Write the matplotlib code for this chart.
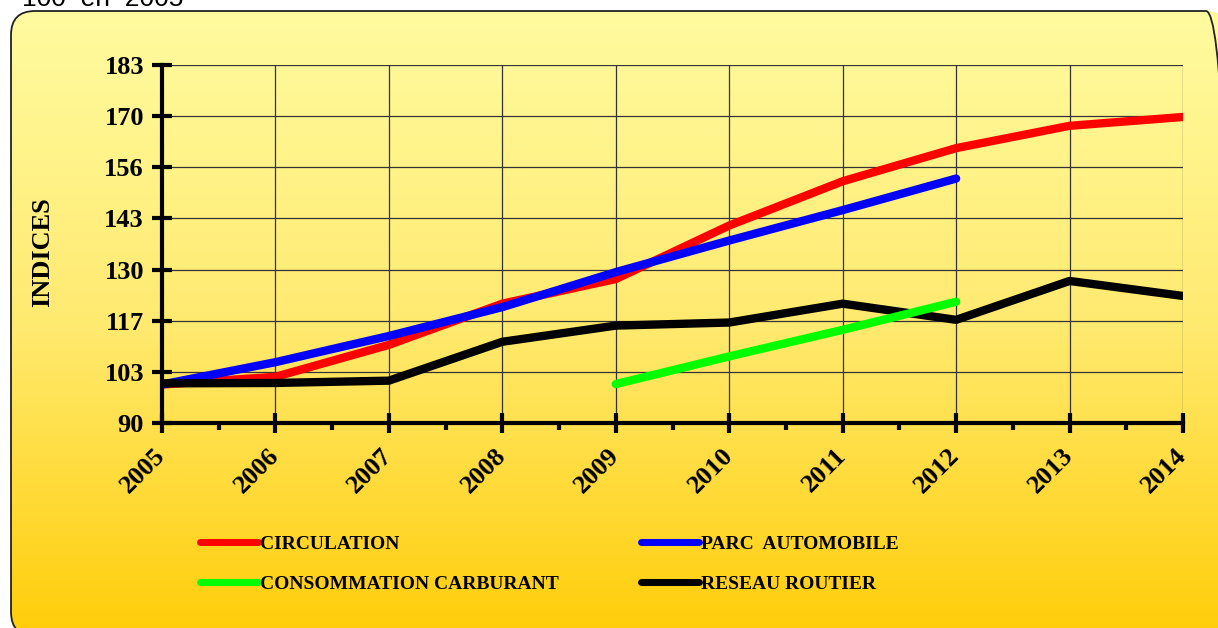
import numpy as np
import matplotlib
matplotlib.use("Agg")
import matplotlib.pyplot as plt
from matplotlib.patches import FancyBboxPatch
from matplotlib.transforms import ScaledTranslation

# index values, base 100 in 2005
years = [2005, 2006, 2007, 2008, 2009, 2010, 2011, 2012, 2013, 2014]
circulation = [100.0, 102.0, 110.3, 121.0, 127.4, 141.3, 152.8, 161.4, 167.2, 169.5]

parc_years = [2005, 2006, 2007, 2008, 2009, 2010, 2011, 2012]
parc_auto = [100.0, 105.8, 112.6, 120.1, 129.2, 137.4, 145.3, 153.5]

carb_years = [2009, 2010, 2011, 2012]
carburant = [100.1, 107.3, 114.2, 121.5]

reseau = [100.3, 100.4, 101.0, 111.1, 115.3, 116.1, 121.0, 116.8, 126.9, 123.0]

y_min, y_max = 90, 183
y_labels = ["90", "103", "117", "130", "143", "156", "170", "183"]

W, H, DPI = 1218, 628, 100
serif = "Liberation Serif"

fig = plt.figure(figsize=(W / DPI, H / DPI), dpi=DPI)
fig.patch.set_facecolor("white")

# rounded gradient panel behind the chart (pixel units, y up)
bg = fig.add_axes([0, 0, 1, 1])
bg.set_xlim(0, W)
bg.set_ylim(0, H)
bg.axis("off")
top = np.array([255, 251, 160]) / 255
mid = np.array([255, 234, 112]) / 255
bot = np.array([255, 205, 8]) / 255
t = np.linspace(0, 1, 300)[:, None]
grad = np.where(t < 0.5, top + (mid - top) * (t / 0.5), mid + (bot - mid) * ((t - 0.5) / 0.5))
grad = np.repeat(grad[:, None, :], 2, axis=1)
px0, py0, px1, py1 = 11, -8, 1230, H - 11
panel = FancyBboxPatch((px0, py0), px1 - px0, py1 - py0,
                       boxstyle="round,pad=0,rounding_size=24",
                       facecolor="none", edgecolor="#222222", linewidth=1.3, zorder=3)
bg.add_patch(panel)
img = bg.imshow(grad, extent=[px0, px1, py0, py1], origin="upper", aspect="auto", zorder=1)
img.set_clip_path(panel)

fig.text(22 / W, 1 - 6 / H, "100  en  2005", fontsize=19, family="Liberation Sans",
         va="baseline", ha="left", color="black")

ax = fig.add_axes([162 / W, 1 - 423 / H, (1183 - 162) / W, (423 - 65) / H])
ax.patch.set_alpha(0)

ax.plot(years, circulation, color="#ff0000", lw=6, solid_capstyle="round",
        label="CIRCULATION", zorder=4)
ax.plot(parc_years, parc_auto, color="#0000ff", lw=6, solid_capstyle="round",
        label="PARC  AUTOMOBILE", zorder=5)
ax.plot(years, reseau, color="black", lw=6, solid_capstyle="round",
        label="RESEAU ROUTIER", zorder=6)
ax.plot(carb_years, carburant, color="#00ff00", lw=6, solid_capstyle="round",
        label="CONSOMMATION CARBURANT", zorder=7)

ax.set_xlim(years[0], years[-1])
ax.set_ylim(y_min, y_max)
ax.set_yticks(np.linspace(y_min, y_max, len(y_labels)))
ax.set_yticklabels(y_labels)
ax.set_xticks(years)
ax.set_xticks(np.arange(years[0] + 0.5, years[-1], 1), minor=True)
ax.set_xticklabels([str(y) for y in years], rotation=45, ha="right", va="center",
                   rotation_mode="anchor")
for lab in ax.get_xticklabels():
    lab.set_transform(lab.get_transform() + ScaledTranslation(-8 / 72, 0, fig.dpi_scale_trans))

for lab in ax.get_xticklabels() + ax.get_yticklabels():
    lab.set_fontfamily(serif)
    lab.set_fontweight("bold")
    lab.set_fontsize(19)

ax.grid(True, color="#333333", lw=0.9, zorder=0)
ax.set_axisbelow(True)
for side in ["top", "right"]:
    ax.spines[side].set_visible(False)
for side in ["left", "bottom"]:
    ax.spines[side].set_linewidth(3)
    ax.spines[side].set_zorder(8)
ax.tick_params(axis="y", which="major", direction="inout", length=14, width=3, pad=6)
ax.tick_params(axis="x", which="major", direction="inout", length=14, width=3, pad=14)
ax.tick_params(axis="x", which="minor", direction="out", length=5, width=3)

fig.text(43 / W, 1 - 252 / H, "INDICES", rotation=90, fontsize=19, family=serif,
         fontweight="bold", ha="center", va="center")

h, l = ax.get_legend_handles_labels()
order = [0, 3, 1, 2]
leg = fig.legend([h[i] for i in order], [l[i] for i in order], ncol=2,
                 loc="upper left", bbox_to_anchor=(200 / W, 1 - 535 / H),
                 frameon=False, borderpad=0, borderaxespad=0,
                 handlelength=3.0, handletextpad=0.1, columnspacing=4.2,
                 labelspacing=1.15,
                 prop={"family": serif, "weight": "bold", "size": 14})
for line in leg.get_lines():
    line.set_linewidth(5)
    line.set_solid_capstyle("round")

fig.savefig("out.png", dpi=DPI)
